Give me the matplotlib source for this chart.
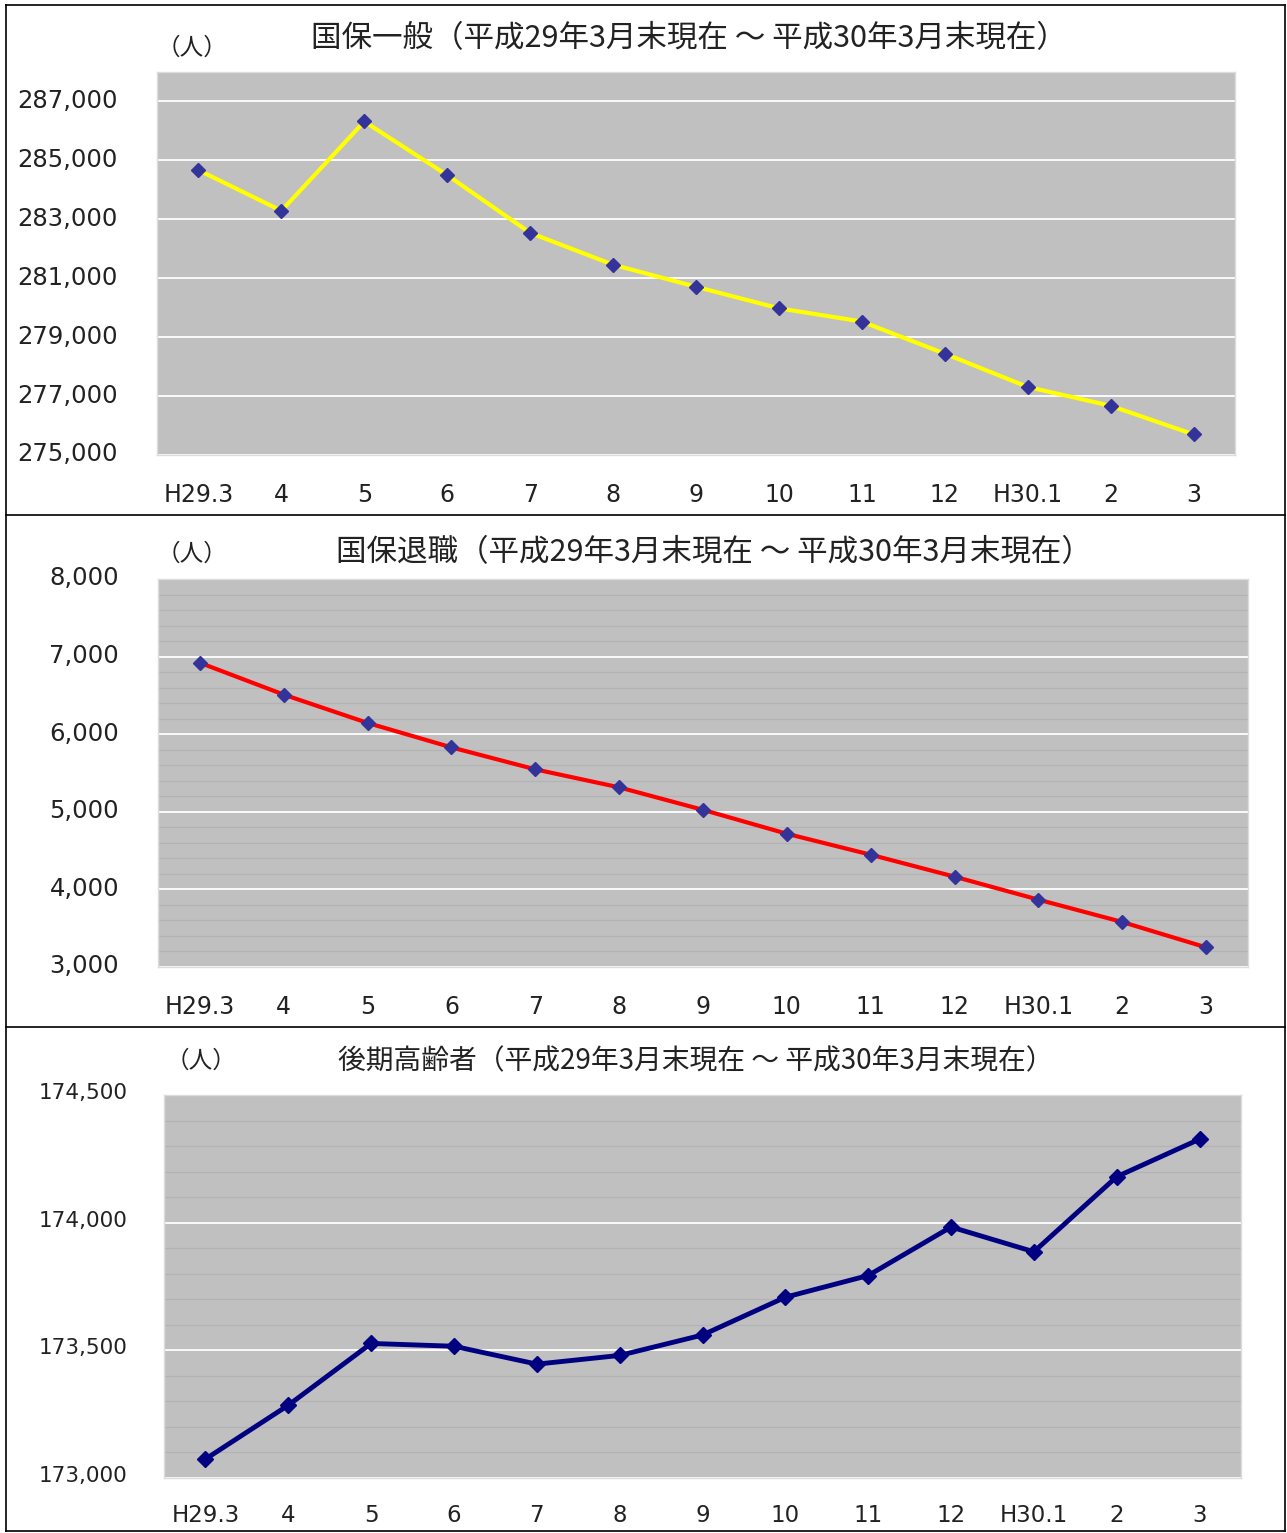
import matplotlib
matplotlib.use("Agg")
import matplotlib.pyplot as plt
from matplotlib.lines import Line2D
from matplotlib.ticker import MultipleLocator, StrMethodFormatter
from matplotlib.transforms import ScaledTranslation

# DejaVu for the Verdana-like digits, Noto CJK for the Japanese glyphs
plt.rcParams["font.family"] = ["DejaVu Sans", "Noto Sans CJK JP"]

# --------------------------------------------------------------------
# Data
# --------------------------------------------------------------------
months = ["H29.3", "4", "5", "6", "7", "8", "9", "10", "11", "12", "H30.1", "2", "3"]

ippan = [284670, 283290, 286320, 284500, 282540, 281460, 280710,
         279980, 279530, 278440, 277310, 276670, 275700]
taishoku = [6920, 6510, 6145, 5830, 5547, 5315, 5025,
            4717, 4447, 4164, 3868, 3580, 3253]
kouki = [173074, 173285, 173527, 173516, 173446, 173480, 173560,
         173708, 173793, 173983, 173886, 174180, 174327]

ippan_ticks = [275000, 277000, 279000, 281000, 283000, 285000, 287000]
taishoku_ticks = [3000, 4000, 5000, 6000, 7000, 8000]
kouki_ticks = [173000, 173500, 174000, 174500]

titles = [
    "国保一般（平成29年3月末現在 ～ 平成30年3月末現在）",
    "国保退職（平成29年3月末現在 ～ 平成30年3月末現在）",
    "後期高齢者（平成29年3月末現在 ～ 平成30年3月末現在）",
]

W, H = 1287, 1533
BG = "#c0c0c0"
TXT = "#222222"


def px_box(left, top, right, bottom):
    return [left / W, 1 - bottom / H, (right - left) / W, (bottom - top) / H]


def fx(x):
    return x / W


def fy(y):
    return 1 - y / H


fig = plt.figure(figsize=(W / 100, H / 100), dpi=100)

panels = [
    dict(box=(157, 72, 1235, 455), vals=ippan, ticks=ippan_ticks,
         line="#ffff00", mk="#333399", ylim=(275000, 288000), minor=None,
         lw=3.0, ms=7.5, yfs=17.5, xfs=17, title_xy=(689, 39), title_fs=22,
         unit_xy=(192, 48), ypad=28, xpad=20, ylift=3),
    dict(box=(158, 579, 1248, 967), vals=taishoku, ticks=taishoku_ticks,
         line="#ff0000", mk="#333399", ylim=(3000, 8000), minor=200,
         lw=3.0, ms=7.5, yfs=17.5, xfs=17, title_xy=(714, 553), title_fs=22,
         unit_xy=(192, 554), ypad=28, xpad=20, ylift=3),
    dict(box=(164, 1095, 1241, 1478), vals=kouki, ticks=kouki_ticks,
         line="#000080", mk="#000080", ylim=(173000, 174500), minor=100,
         lw=3.5, ms=8, yfs=15.5, xfs=16.5, title_xy=(696, 1061), title_fs=20,
         unit_xy=(201, 1061), ypad=26, xpad=19, ylift=4),
]

x = list(range(len(months)))

for i, p in enumerate(panels):
    ax = fig.add_axes(px_box(*p["box"]))
    ax.set_facecolor(BG)
    ax.plot(x, p["vals"], color=p["line"], lw=p["lw"], zorder=3)
    ax.plot(x, p["vals"], ls="none", marker="D", ms=p["ms"],
            color=p["mk"], mec=p["mk"], zorder=4)

    ax.set_xlim(-0.5, len(months) - 0.5)
    ax.set_ylim(*p["ylim"])
    ax.set_yticks(p["ticks"])
    ax.yaxis.set_major_formatter(StrMethodFormatter("{x:,.0f}"))
    if p["minor"]:
        ax.yaxis.set_minor_locator(MultipleLocator(p["minor"]))
        ax.grid(axis="y", which="minor", color="#b3b3b3", lw=0.9, zorder=1)
    ax.grid(axis="y", which="major", color="white", lw=1.3, zorder=2)
    ax.set_axisbelow(True)

    ax.set_xticks(x)
    ax.set_xticklabels(months)
    ax.tick_params(axis="both", which="both", length=0)
    ax.tick_params(axis="y", labelsize=p["yfs"], pad=p["ypad"], colors=TXT)
    ax.tick_params(axis="x", labelsize=p["xfs"], pad=p["xpad"], colors=TXT)

    # labels sit a few pixels above their gridlines in the original
    lift = ScaledTranslation(0, p["ylift"] / 100, fig.dpi_scale_trans)
    for lbl in ax.get_yticklabels():
        lbl.set_transform(lbl.get_transform() + lift)

    for s in ax.spines.values():
        s.set_color("#dcdcdc")
        s.set_linewidth(1)

    fig.text(fx(p["title_xy"][0]), fy(p["title_xy"][1]), titles[i],
             ha="center", va="center", fontsize=p["title_fs"], color=TXT,
             family=["Noto Sans CJK JP", "DejaVu Sans"])
    fig.text(fx(p["unit_xy"][0]), fy(p["unit_xy"][1]), "（人）",
             ha="center", va="center", fontsize=17, color=TXT,
             family=["Noto Sans CJK JP", "DejaVu Sans"])

# outer frame and dividers between the three charts
frame = dict(color="black", lw=1.2, transform=fig.transFigure)
for (x0, y0, x1, y1) in [(6, 5, 1285, 5), (6, 1531, 1285, 1531),
                         (6, 5, 6, 1531), (1285, 5, 1285, 1531),
                         (6, 515, 1285, 515), (6, 1027, 1285, 1027)]:
    fig.add_artist(Line2D([fx(x0), fx(x1)], [fy(y0), fy(y1)], **frame))

fig.savefig("out.png", dpi=100, facecolor="white")
